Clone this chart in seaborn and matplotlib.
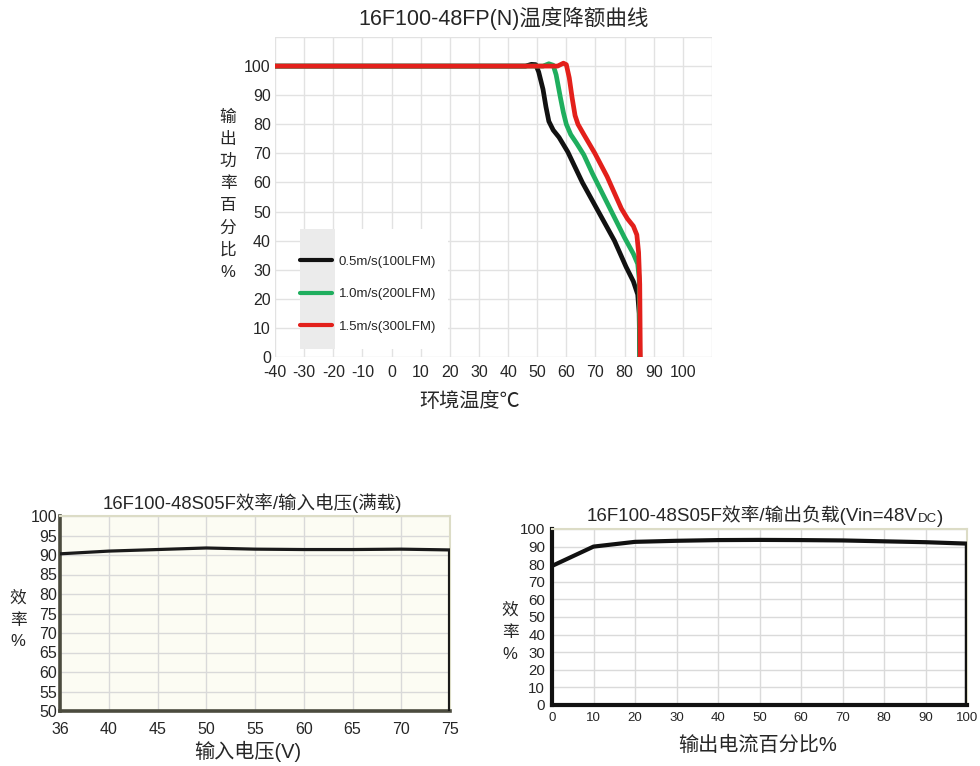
import numpy as np
import pandas as pd
import seaborn as sns
import matplotlib.pyplot as plt
from matplotlib.lines import Line2D
from matplotlib.patches import Rectangle

# derating curves of 16F100-48FP(N)
temp_05 = [-40, 46, 48, 49.5, 50.5, 52, 53, 54, 55.5, 57.5, 60.5, 65.5, 71, 76.5, 80.5, 83, 84.5, 85, 85.2]
load_05 = [100, 100, 100.6, 100.5, 98, 92, 86, 81, 78, 75.5, 70.5, 60, 50, 40, 31, 26, 21.5, 15, 0]
temp_10 = [-40, 52, 54, 55.5, 56.5, 58, 59, 60, 61.5, 63.5, 66, 69, 75, 80, 83, 84.5, 85, 85.2]
load_10 = [100, 100, 100.8, 100.3, 97, 89, 84, 80, 76.5, 73.5, 69.5, 63, 51, 41, 35.5, 32, 27, 0]
temp_15 = [-40, 57, 59, 60, 61, 62, 63, 64, 66, 69.8, 74, 78.9, 81, 83, 84.2, 84.8, 85.2, 85.4]
load_15 = [100, 100, 101, 100.5, 96, 89, 83, 80, 76.5, 70, 62, 51, 47.5, 45, 42, 36, 25, 0]
legend_labels = ['0.5m/s(100LFM)', '1.0m/s(200LFM)', '1.5m/s(300LFM)']
line_colors = ['#111111', '#1fae5e', '#e3201b']

temp_ticks = list(range(-40, 111, 10))
temp_ticklabels = [str(t) for t in range(-40, 101, 10)] + ['']
pct_ticks = list(range(0, 111, 10))
pct_ticklabels = [str(t) for t in range(0, 101, 10)] + ['']

# efficiency vs input voltage (full load)
vin_labels = ['36', '40', '45', '50', '55', '60', '65', '70', '75']
eff_vin = [90.3, 91.0, 91.4, 91.8, 91.5, 91.4, 91.4, 91.5, 91.3]
eff_vin_ticks = list(range(50, 101, 5))

# efficiency vs output load (Vin=48VDC)
load_pct = [0, 10, 20, 30, 40, 50, 60, 70, 80, 90, 100]
eff_load = [79, 90, 92.7, 93.3, 93.7, 93.8, 93.7, 93.5, 93, 92.5, 91.7]
eff_load_ticks = list(range(0, 101, 10))

sns.set_style('whitegrid')
plt.rcParams['font.family'] = ['Liberation Sans', 'Noto Sans CJK SC']
plt.rcParams['axes.unicode_minus'] = False

W, H = 980, 766
fig = plt.figure(figsize=(W / 100, H / 100), dpi=100)


def fx(px):
    return px / W


def fy(py):
    return 1 - py / H


def box(l, t, r, b):
    return [fx(l), fy(b), fx(r) - fx(l), fy(t) - fy(b)]


# ---- top: derating curve
ax1 = fig.add_axes(box(275, 37, 712, 357))
curves = pd.concat([
    pd.DataFrame({'temp': temp_05, 'load': load_05, 'air': legend_labels[0]}),
    pd.DataFrame({'temp': temp_10, 'load': load_10, 'air': legend_labels[1]}),
    pd.DataFrame({'temp': temp_15, 'load': load_15, 'air': legend_labels[2]}),
])
sns.lineplot(data=curves, x='temp', y='load', hue='air', palette=line_colors,
             estimator=None, sort=False, linewidth=3.4, legend=False, ax=ax1, zorder=3)
ax1.set_xlim(-40, 110)
ax1.set_ylim(0, 110)
ax1.set_xticks(temp_ticks, labels=temp_ticklabels)
ax1.set_yticks(pct_ticks, labels=pct_ticklabels)
ax1.grid(color='#e2e2e2', linewidth=1)
for s in ax1.spines.values():
    s.set_visible(False)
ax1.tick_params(axis='both', labelsize=11.5, length=0)
ax1.tick_params(axis='x', pad=6)
ax1.tick_params(axis='y', pad=3)
ax1.set_xlabel('')
ax1.set_ylabel('')

# legend with the grey strip behind the handles
ax1.add_patch(Rectangle((0.057, 0.025), 0.34, 0.375, transform=ax1.transAxes,
                        facecolor='white', edgecolor='none', zorder=1))
ax1.add_patch(Rectangle((0.057, 0.025), 0.08, 0.375, transform=ax1.transAxes,
                        facecolor='#ebebeb', edgecolor='none', zorder=1.5))
handles = [Line2D([], [], color=c, linewidth=3) for c in line_colors]
ax1.legend(handles, legend_labels, loc='lower left', bbox_to_anchor=(0.058, 0.075),
           frameon=False, fontsize=9.5, handlelength=2.4, handletextpad=0.5,
           labelspacing=1.55, borderpad=0, borderaxespad=0)

fig.text(fx(504), fy(18), '16F100-48FP(N)温度降额曲线', ha='center', va='center', fontsize=15.5)
fig.text(fx(228), fy(195), '\n'.join('输出功率百分比%'), ha='center', va='center',
         fontsize=12, linespacing=1.58)
fig.text(fx(470), fy(401), '环境温度℃', ha='center', va='center', fontsize=14.5)

# ---- bottom left: efficiency vs input voltage
ax2 = fig.add_axes(box(60, 516, 450, 711))
ax2.set_facecolor('#fcfcf3')
sns.lineplot(x=vin_labels, y=eff_vin, estimator=None, sort=False, color='#1a1a1a',
             linewidth=2.3, ax=ax2, zorder=3)
ax2.vlines(vin_labels[-1], eff_vin_ticks[0], eff_vin[-1], color='#1a1a1a', linewidth=3, zorder=3)
ax2.set_xlim(0, len(vin_labels) - 1)
ax2.set_ylim(eff_vin_ticks[0], eff_vin_ticks[-1])
ax2.set_yticks(eff_vin_ticks)
ax2.grid(color='#d9d9d9', linewidth=1)
for side in ['left', 'bottom']:
    ax2.spines[side].set_color('#4b4b3e')
    ax2.spines[side].set_linewidth(2.6)
for side in ['top', 'right']:
    ax2.spines[side].set_color('#dcdcc6')
    ax2.spines[side].set_linewidth(1.5)
ax2.tick_params(axis='both', labelsize=11.5, length=0)
ax2.tick_params(axis='y', pad=2)
ax2.tick_params(axis='x', pad=8)
fig.text(fx(252), fy(503), '16F100-48S05F效率/输入电压(满载)', ha='center', va='center', fontsize=13.3)
fig.text(fx(18), fy(620), '效\n率\n%', ha='center', va='center', fontsize=12, linespacing=1.55)
fig.text(fx(248), fy(751), '输入电压(V)', ha='center', va='center', fontsize=14.5)

# ---- bottom right: efficiency vs output load
ax3 = fig.add_axes(box(552, 529, 967, 705))
sns.lineplot(x=load_pct, y=eff_load, color='#111111', linewidth=3, ax=ax3, zorder=3)
ax3.vlines(load_pct[-1], eff_load_ticks[0], eff_load[-1], color='#111111', linewidth=3.2, zorder=3)
ax3.set_xlim(load_pct[0], load_pct[-1])
ax3.set_ylim(eff_load_ticks[0], eff_load_ticks[-1])
ax3.set_xticks(load_pct)
ax3.set_yticks(eff_load_ticks)
ax3.grid(color='#dadada', linewidth=1)
for side in ['left', 'bottom']:
    ax3.spines[side].set_color('#111111')
    ax3.spines[side].set_linewidth(3)
for side in ['top', 'right']:
    ax3.spines[side].set_color('#dcdcc6')
    ax3.spines[side].set_linewidth(1.5)
ax3.tick_params(axis='y', labelsize=10.8, length=4, width=1.2, color='#111111', pad=1)
ax3.tick_params(axis='x', labelsize=9.5, length=0, pad=5)

t1 = fig.text(fx(587), fy(515), '16F100-48S05F效率/输出负载(Vin=48V', ha='left', va='center', fontsize=13.5)
t2 = ax3.annotate('DC', xy=(1, 0), xycoords=t1, ha='left', va='bottom', fontsize=9.5,
                  annotation_clip=False)
ax3.annotate(')', xy=(1, 0), xycoords=t2, ha='left', va='bottom', fontsize=13.5,
             annotation_clip=False, xytext=(0, -1.5), textcoords='offset points')
fig.text(fx(510), fy(632), '效\n率\n%', ha='center', va='center', fontsize=12, linespacing=1.6)
fig.text(fx(758), fy(745), '输出电流百分比%', ha='center', va='center', fontsize=14.5)

fig.savefig('out.png', dpi=100)
